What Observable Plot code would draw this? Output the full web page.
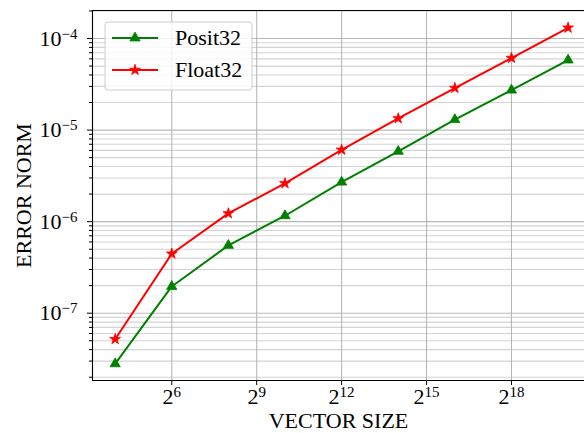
<!DOCTYPE html>
<html>
<head>
<meta charset="utf-8">
<script src="https://cdn.jsdelivr.net/npm/d3@7"></script>
<script src="https://cdn.jsdelivr.net/npm/@observablehq/plot@0.6"></script>
<style>
  html, body { margin: 0; padding: 0; background: #fff; }
  #chart { width: 584px; height: 433px; overflow: hidden; }
</style>
</head>
<body>
<div id="chart"></div>
<script>
const vectorSizes = [16, 64, 256, 1024, 4096, 16384, 65536, 262144, 1048576];
const posit32 = [2.8e-8, 1.96e-7, 5.5e-7, 1.16e-6, 2.7e-6, 5.86e-6, 1.30e-5, 2.73e-5, 5.82e-5];
const float32 = [5.2e-8, 4.46e-7, 1.23e-6, 2.62e-6, 6.08e-6, 1.34e-5, 2.88e-5, 6.12e-5, 1.31e-4];
const seriesNames = ["Posit32", "Float32"];
const xTickExps = [6, 9, 12, 15, 18];
const yTickExps = [-7, -6, -5, -4];

const FONT = "'Liberation Serif', 'DejaVu Serif', 'Times New Roman', serif";
const xDomain = [2 ** 3.2, 2 ** 20.58];
const yDomain = [10 ** -7.735, 10 ** -3.694];

const majorX = xTickExps.map(e => 2 ** e);
const majorY = yTickExps.map(e => 10 ** e);
const minorY = [];
for (let e = -8; e <= -4; e++) {
  for (let m = 2; m <= 9; m++) {
    const v = m * 10 ** e;
    if (v >= yDomain[0] && v <= yDomain[1]) minorY.push(v);
  }
}

const rows = [];
vectorSizes.forEach((s, i) => {
  rows.push({size: s, err: posit32[i], series: seriesNames[0]});
  rows.push({size: s, err: float32[i], series: seriesNames[1]});
});
const pRows = rows.filter(d => d.series === "Posit32");
const fRows = rows.filter(d => d.series === "Float32");

const TRI_R = 3.8, STAR_R = 3.4;

const chart = Plot.plot({
  width: 584,
  height: 433,
  marginLeft: 92,
  marginRight: 0,
  marginTop: 10,
  marginBottom: 53,
  x: {type: "log", base: 2, domain: xDomain},
  y: {type: "log", domain: yDomain},
  style: {fontFamily: FONT, background: "#fff", color: "#000", overflow: "visible", fontSize: "22px"},
  marks: [
    Plot.ruleY(minorY, {stroke: "#b0b0b0", strokeOpacity: 0.55, strokeWidth: 1.1}),
    Plot.ruleY(majorY, {stroke: "#b0b0b0", strokeOpacity: 0.9, strokeWidth: 1.1}),
    Plot.ruleX(majorX, {stroke: "#b0b0b0", strokeOpacity: 0.9, strokeWidth: 1.1}),
    Plot.axisY(minorY, {tickSize: 3, tickFormat: () => "", label: null, tickWidth: 0.8}),
    Plot.axisY(majorY, {tickSize: 5, tickPadding: 10, fontSize: 22, label: null,
      tickFormat: d => "10^" + Math.round(Math.log10(d))}),
    Plot.axisX(majorX, {tickSize: 5, tickPadding: 3, fontSize: 22, label: null,
      tickFormat: d => "2^" + Math.round(Math.log2(d))}),
    Plot.ruleX([xDomain[0]], {stroke: "#000", strokeWidth: 1.1}),
    Plot.ruleY([yDomain[0]], {stroke: "#000", strokeWidth: 1.1}),
    Plot.ruleY([yDomain[1]], {stroke: "#000", strokeWidth: 1.1}),
    Plot.line(pRows, {x: "size", y: "err", stroke: "#008000", strokeWidth: 2}),
    Plot.line(fRows, {x: "size", y: "err", stroke: "#ff0000", strokeWidth: 2}),
    Plot.dot(pRows, {x: "size", y: "err", symbol: "triangle", r: TRI_R, fill: "#008000", stroke: "#008000", strokeWidth: 0.8}),
    Plot.dot(fRows, {x: "size", y: "err", symbol: "star", r: STAR_R, fill: "#ff0000", stroke: "#ff0000", strokeWidth: 0.8}),
    Plot.text(["VECTOR SIZE"], {frameAnchor: "bottom", dy: 47, textAnchor: "middle", text: d => d, fontSize: 22, fill: "#000"}),
    Plot.text(["ERROR NORM"], {frameAnchor: "left", dx: -69, rotate: -90, textAnchor: "middle", lineAnchor: "middle", text: d => d, fontSize: 22, fill: "#000"})
  ]
});

document.getElementById("chart").appendChild(chart);
const svg = d3.select(chart);

// Superscript tick labels
svg.selectAll("g[aria-label='y-axis tick label'], g[aria-label='x-axis tick label']")
  .attr("font-size", 22).style("font-size", "22px");
svg.selectAll("g[aria-label='y-axis tick label'] text, g[aria-label='x-axis tick label'] text").each(function() {
  const t = d3.select(this);
  const s = t.text();
  if (!s.includes("^")) return;
  const [base, exp] = s.split("^");
  t.text("");
  t.style("font-size", "22px");
  t.append("tspan").style("font-size", "22px").text(base);
  t.append("tspan").attr("dy", "-0.45em").style("font-size", "15px")
    .text(exp.replace("-", "\u2212"));
});

// Legend
const lg = svg.append("g").attr("font-family", FONT).attr("text-anchor", "start");
lg.append("rect").attr("x", 105).attr("y", 22).attr("width", 147).attr("height", 68)
  .attr("rx", 3).attr("fill", "#fff").attr("fill-opacity", 0.8)
  .attr("stroke", "#cccccc").attr("stroke-width", 1);
const entries = [
  {name: seriesNames[0], color: "#008000", sym: d3.symbolTriangle, size: TRI_R, y: 38},
  {name: seriesNames[1], color: "#ff0000", sym: d3.symbolStar, size: STAR_R, y: 70}
];
entries.forEach(e => {
  lg.append("line").attr("x1", 112).attr("x2", 158).attr("y1", e.y).attr("y2", e.y)
    .attr("stroke", e.color).attr("stroke-width", 2);
  lg.append("path").attr("d", d3.symbol(e.sym, e.size * e.size * Math.PI)())
    .attr("transform", `translate(135,${e.y})`).attr("fill", e.color).attr("stroke", e.color).attr("stroke-width", 0.8);
  lg.append("text").attr("x", 175).attr("y", e.y).attr("dy", "0.34em")
    .attr("text-anchor", "start")
    .style("font-size", "22px").attr("fill", "#000").text(e.name);
});
</script>
</body>
</html>
